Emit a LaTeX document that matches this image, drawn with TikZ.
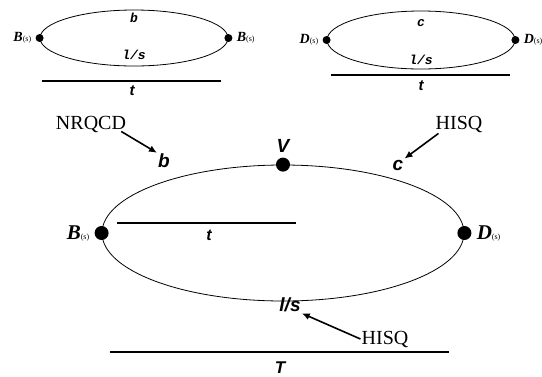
\documentclass[tikz,border=0pt]{standalone}
\usepackage{fontspec}
\setmainfont{Liberation Serif}
\setsansfont{Liberation Sans}
\setmonofont{Liberation Mono}
\usepackage{tikz}
\usetikzlibrary{positioning, arrows.meta, shapes.geometric}
\tikzset{
  loop/.style={
    draw, ellipse, line width=0.8pt, inner sep=0pt
  },
  smalldot/.style={circle, fill, inner sep=0pt, minimum size=8pt},
  bigdot/.style={circle, fill, inner sep=0pt, minimum size=14pt},
  quark/.style={font=\fontsize{19}{19}\sffamily\bfseries\itshape, inner sep=1pt},
  tquark/.style={font=\fontsize{13}{13}\ttfamily\bfseries\itshape, inner sep=1pt},
  meson/.style={font=\fontsize{21}{21}\bfseries\itshape, inner sep=1pt},
  smeson/.style={font=\fontsize{14}{14}\bfseries\itshape, inner sep=1pt},
  action/.style={font=\fontsize{20}{20}\selectfont, inner sep=1pt},
  pointer/.style={-{Latex[length=8pt,width=7pt]}, line width=1.6pt},
  timebar/.style={line width=2pt},
}
\newcommand{\sub}[1]{{\fontsize{8}{8}\normalfont(#1)}}

\begin{document}
\begin{tikzpicture}[x=1pt, y=-1pt]
  \useasboundingbox (0,0) rectangle (542,376);

  % B two-point function
  \node[loop, minimum width=188pt, minimum height=56pt] (loopB) at (134,38) {};
  \node[smalldot] (dBl) at (loopB.west) {};
  \node[smalldot] (dBr) at (loopB.east) {};
  \node[smeson, left=3pt of dBl] {B\sub{s}};
  \node[smeson, right=3pt of dBr] {B\sub{s}};
  \node[tquark] (qb) at (134,18) {b};
  \node[tquark] (qlB) at (134,55) {l/s};
  \coordinate (barBl) at (42,81);
  \coordinate (barBr) at (221,81);
  \draw[timebar] (barBl) -- (barBr);
  \node[quark, font=\fontsize{15}{15}\sffamily\bfseries\itshape] (tB) at (132,91) {t};

  % D two-point function
  \node[loop, minimum width=188pt, minimum height=58pt] (loopD) at (421,40) {};
  \node[smalldot] (dDl) at (loopD.west) {};
  \node[smalldot] (dDr) at (loopD.east) {};
  \node[smeson, left=3pt of dDl] {D\sub{s}};
  \node[smeson, right=3pt of dDr] {D\sub{s}};
  \node[tquark] (qc) at (421,23) {c};
  \node[tquark] (qlD) at (421,60) {l/s};
  \coordinate (barDl) at (331,75);
  \coordinate (barDr) at (510,75);
  \draw[timebar] (barDl) -- (barDr);
  \node[quark, font=\fontsize{15}{15}\sffamily\bfseries\itshape] (tD) at (421,86) {t};

  % three-point function
  \node[loop, minimum width=362pt, minimum height=136pt] (loopV) at (283,233) {};
  \node[bigdot] (dB) at (loopV.west) {};
  \node[bigdot] (dD) at (loopV.east) {};
  \node[bigdot] (dV) at (loopV.north) {};
  \node[meson, left=4pt of dB] {B\sub{s}};
  \node[meson, right=4pt of dD] {D\sub{s}};
  \node[quark, above=4pt of dV] (lV) {V};
  \node[quark] (bq) at (164,161) {b};
  \node[quark] (cq) at (398,165) {c};
  \node[quark] (lq) at (290,305) {l/s};
  \coordinate (innerl) at (117,223);
  \coordinate (innerr) at (296,223);
  \draw[timebar] (innerl) -- (innerr);
  \node[quark, font=\fontsize{16}{16}\sffamily\bfseries\itshape] (tV) at (209,235) {t};
  \coordinate (barTl) at (110,352);
  \coordinate (barTr) at (449,352);
  \draw[timebar] (barTl) -- (barTr);
  \node[quark, font=\fontsize{17}{17}\sffamily\bfseries\itshape] (tT) at (280,368) {T};

  % actions
  \node[action] (nrqcd) at (91,124) {NRQCD};
  \node[action] (hisqc) at (459,124) {HISQ};
  \node[action] (hisql) at (385,339) {HISQ};
  \draw[pointer] (nrqcd.south east) ++(-6pt,2pt) coordinate (p1) (p1) -- (bq.north west);
  \draw[pointer] (hisqc.south west) ++(4pt,0pt) coordinate (p2) (p2) -- (cq.north east);
  \draw[pointer] (hisql.west) -- (lq.south east);
\end{tikzpicture}
\end{document}
